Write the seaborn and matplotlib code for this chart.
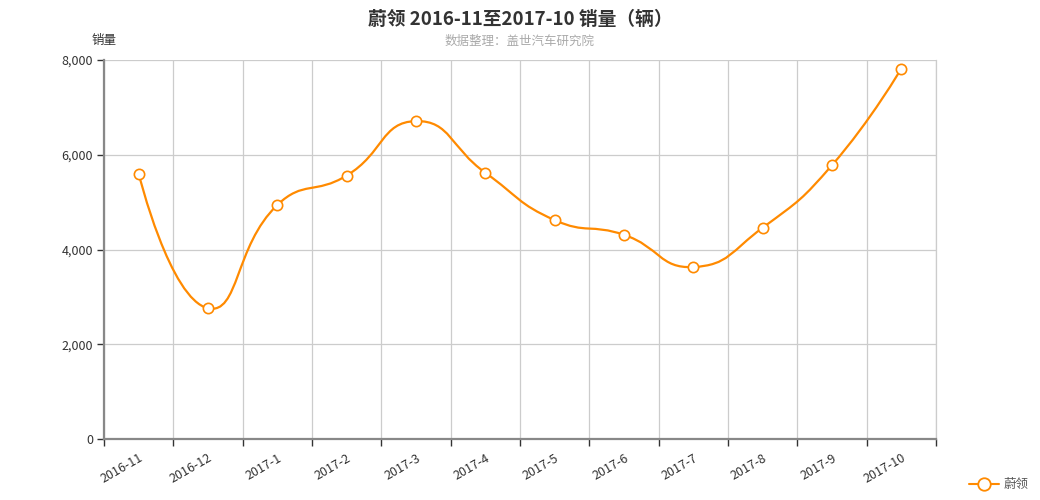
import numpy as np
import pandas as pd
import seaborn as sns
import matplotlib.pyplot as plt
from matplotlib.path import Path
from matplotlib.patches import PathPatch
from matplotlib.lines import Line2D
from matplotlib.ticker import FuncFormatter, MultipleLocator

# data
months = ["2016-11", "2016-12", "2017-1", "2017-2", "2017-3", "2017-4",
          "2017-5", "2017-6", "2017-7", "2017-8", "2017-9", "2017-10"]
sales = [5600, 2760, 4940, 5560, 6710, 5620, 4620, 4310, 3630, 4460, 5780, 7820]
series_name = "蔚领"

title = "蔚领 2016-11至2017-10 销量（辆）"
subtitle = "数据整理：盖世汽车研究院"
y_name = "销量"

ORANGE = "#ff8a00"

sns.set_theme(style="white")
plt.rcParams["font.family"] = ["Noto Sans CJK SC", "DejaVu Sans"]

df = pd.DataFrame({"month": months, "sales": sales})

fig = plt.figure(figsize=(10.4, 5), dpi=100)
ax = fig.add_axes([0.1, 0.122, 0.8, 0.758])
ax.set_xlim(-0.5, len(months) - 0.5)
ax.set_ylim(0, 8000)


def smooth_path(ax, xs, ys, smooth=0.5):
    """echarts-like bezier smoothing, computed in screen space."""
    pts = ax.transData.transform(np.column_stack([xs, ys]))
    n = len(pts)
    verts = [pts[0]]
    codes = [Path.MOVETO]
    cps = []
    for i in range(n):
        p = pts[i]
        if i == 0 or i == n - 1:
            cps.append((p, p))
            continue
        prev, nxt = pts[i - 1], pts[i + 1]
        v = (nxt - prev) * smooth
        d0 = np.hypot(*(p - prev))
        d1 = np.hypot(*(nxt - p))
        s = d0 + d1
        cps.append((p - v * d0 / s, p + v * d1 / s))
    for i in range(n - 1):
        verts += [cps[i][1], cps[i + 1][0], pts[i + 1]]
        codes += [Path.CURVE4] * 3
    verts = ax.transData.inverted().transform(np.array(verts))
    return Path(verts, codes)


xpos = np.arange(len(months))
ax.add_patch(PathPatch(smooth_path(ax, xpos, sales), facecolor="none",
                       edgecolor=ORANGE, lw=1.6, zorder=3))
sns.scatterplot(data=df, x="month", y="sales", ax=ax, s=55, color="white",
                edgecolor=ORANGE, linewidth=1.2, zorder=4, legend=False)
ax.set_xlim(-0.5, len(months) - 0.5)
ax.set_ylim(0, 8000)

# grid on band boundaries
ax.set_xticks(xpos)
ax.set_xticklabels(months, rotation=30, ha="right", rotation_mode="anchor",
                   fontsize=9, color="#333333")
ax.set_xticks(np.arange(-0.5, len(months)), minor=True)
ax.tick_params(axis="x", which="major", length=0, pad=9)
ax.tick_params(axis="x", which="minor", length=5, color="#333333", width=1,
               direction="out", bottom=True)
ax.xaxis.grid(True, which="minor", color="#cccccc", lw=0.9)
ax.xaxis.grid(False, which="major")

ax.yaxis.set_major_locator(MultipleLocator(2000))
ax.yaxis.set_major_formatter(FuncFormatter(lambda v, p: f"{int(v):,}"))
ax.tick_params(axis="y", length=5, color="#333333", width=1, direction="out",
               left=True, labelsize=9, labelcolor="#333333", pad=3)
ax.yaxis.grid(True, color="#cccccc", lw=0.9)
ax.set_axisbelow(True)

ax.spines["top"].set_visible(False)
ax.spines["right"].set_color("#cccccc")
ax.spines["right"].set_linewidth(0.9)
for side in ["left", "bottom"]:
    ax.spines[side].set_color("#888888")
    ax.spines[side].set_linewidth(1.6)
ax.set_xlabel("")
ax.set_ylabel("")

ax.text(0.0, 1.035, y_name, transform=ax.transAxes, ha="center", va="bottom",
        fontsize=9, color="#333333")

fig.text(0.5, 0.962, title, ha="center", va="center", fontsize=13.5,
         fontweight="bold", color="#333333")
fig.text(0.5, 0.918, subtitle, ha="center", va="center", fontsize=9,
         color="#aaaaaa")

handle = Line2D([], [], color=ORANGE, lw=1.5, marker="o", markersize=9,
                markerfacecolor="white", markeredgecolor=ORANGE,
                markeredgewidth=1.3)
fig.legend([handle], [series_name], loc="lower right",
           bbox_to_anchor=(1.0, -0.005), frameon=False, fontsize=9,
           labelcolor="#555555", handlelength=2.4, handletextpad=0.4)

fig.savefig("out.png", dpi=100)
